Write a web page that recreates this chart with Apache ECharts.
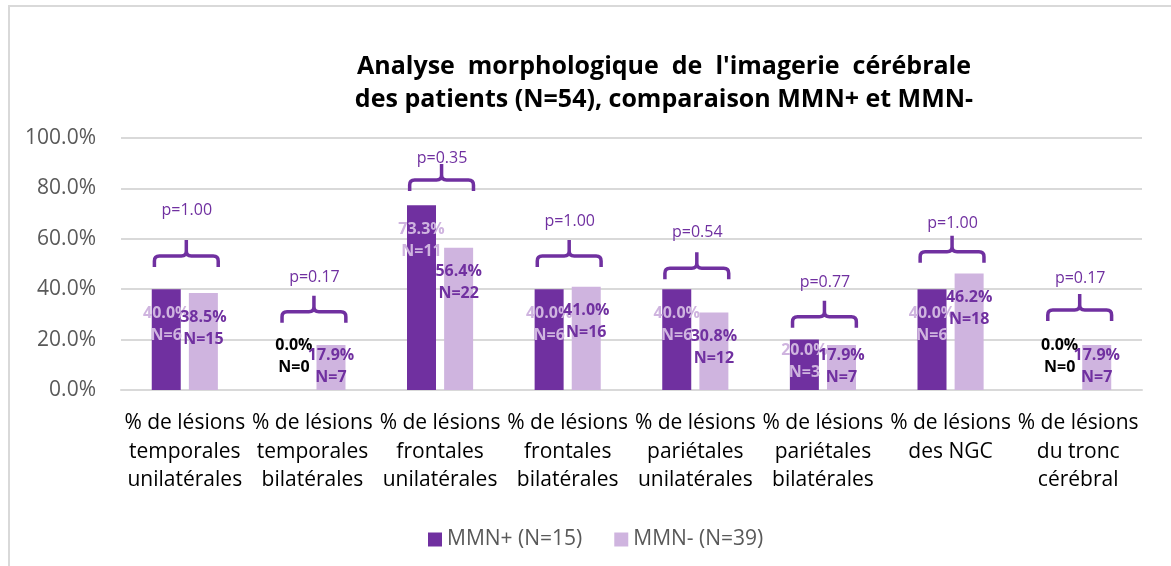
<!DOCTYPE html>
<html>
<head>
<meta charset="utf-8">
<script src="https://cdn.jsdelivr.net/npm/echarts@6/dist/echarts.min.js"></script>
<style>
  html, body { margin: 0; padding: 0; background: #fff; }
  #frame { position: absolute; left: 8px; top: 5px; width: 1163px; height: 561px; border-top: 2px solid #D9D9D9; border-left: 2px solid #D9D9D9; box-sizing: border-box; }
  #chart { position: absolute; left: 0; top: 0; width: 1171px; height: 566px; }
</style>
</head>
<body>
<div id="frame"></div>
<div id="chart"></div>
<script>
const categories = [
  "% de lésions\ntemporales\nunilatérales",
  "% de lésions\ntemporales\nbilatérales",
  "% de lésions\nfrontales\nunilatérales",
  "% de lésions\nfrontales\nbilatérales",
  "% de lésions\npariétales\nunilatérales",
  "% de lésions\npariétales\nbilatérales",
  "% de lésions\ndes NGC",
  "% de lésions\ndu tronc\ncérébral"
];
const mmnPlus = [40.0, 0.0, 73.3, 40.0, 40.0, 20.0, 40.0, 0.0];
const mmnPlusN = [6, 0, 11, 6, 6, 3, 6, 0];
const mmnMinus = [38.5, 17.9, 56.4, 41.0, 30.8, 17.9, 46.2, 17.9];
const mmnMinusN = [15, 7, 22, 16, 12, 7, 18, 7];
const pValues = ["p=1.00", "p=0.17", "p=0.35", "p=1.00", "p=0.54", "p=0.77", "p=1.00", "p=0.17"];
const braceLevels = [53.2, 31.1, 83.3, 53.2, 48.3, 29.1, 54.9, 31.7];
const pLabelLevels = [71.4, 44.8, 92.0, 66.8, 62.4, 42.7, 66.1, 44.3];
const yTicks = [0, 20, 40, 60, 80, 100];
const seriesNames = ["MMN+ (N=15)", "MMN- (N=39)"];

const DARK = "#7030A0";
const LIGHT = "#CFB4DF";
const FONT = "Open Sans";

function barData(values, counts, labelColor) {
  return values.map((v, i) => {
    const txt = v.toFixed(1) + "%\nN=" + counts[i];
    let label;
    if (v === 0) {
      label = { show: true, position: "top", distance: 12, color: "#000", formatter: txt };
    } else {
      label = { show: true, position: "insideTop", distance: v < 25 ? 0 : 13, color: labelColor, formatter: txt };
    }
    return { value: v, label: label };
  });
}

const chart = echarts.init(document.getElementById("chart"), null, { renderer: "canvas" });
const option = {
  animation: false,
  backgroundColor: "transparent",
  title: {
    text: "Analyse  morphologique  de  l'imagerie  cérébrale\ndes patients (N=54), comparaison MMN+ et MMN-",
    left: 659,
    top: 45,
    textAlign: "center",
    textStyle: { fontFamily: FONT, fontWeight: "bold", fontSize: 25, color: "#000", lineHeight: 33 }
  },
  legend: {
    data: seriesNames,
    left: 423,
    top: 524,
    itemWidth: 14,
    itemHeight: 14,
    itemGap: 32,
    icon: "rect",
    textStyle: { fontFamily: FONT, fontSize: 21, color: "#595959" }
  },
  grid: { left: 121, right: 29, top: 138, bottom: 176, containLabel: false },
  xAxis: {
    type: "category",
    data: categories,
    axisLine: { show: true, lineStyle: { color: "#D9D9D9", width: 2 } },
    axisTick: { show: false },
    axisLabel: { interval: 0, margin: 19, fontFamily: FONT, fontSize: 21, color: "#000", lineHeight: 28.5 }
  },
  yAxis: {
    type: "value",
    min: 0,
    max: 100,
    interval: 20,
    axisLine: { show: false },
    axisTick: { show: false },
    splitLine: { lineStyle: { color: "#D9D9D9", width: 2 } },
    axisLabel: {
      margin: 25,
      fontFamily: FONT,
      fontSize: 21,
      color: "#595959",
      formatter: v => (yTicks.indexOf(v) >= 0 ? v.toFixed(1) + "%" : "")
    }
  },
  series: [
    {
      name: seriesNames[0],
      type: "bar",
      barWidth: 29,
      barGap: "28%",
      itemStyle: { color: DARK },
      label: { fontFamily: FONT, fontWeight: "bold", fontSize: 16, lineHeight: 22 },
      data: barData(mmnPlus, mmnPlusN, LIGHT),
      z: 2
    },
    {
      name: seriesNames[1],
      type: "bar",
      barWidth: 29,
      itemStyle: { color: LIGHT },
      label: { fontFamily: FONT, fontWeight: "bold", fontSize: 16, lineHeight: 22 },
      data: barData(mmnMinus, mmnMinusN, DARK),
      z: 2
    },
    {
      type: "custom",
      silent: true,
      z: 5,
      data: braceLevels.map((lv, i) => [i, lv, pLabelLevels[i]]),
      renderItem: function (params, api) {
        const i = api.value(0);
        const base = api.coord([i, api.value(1)]);
        const txt = api.coord([i, api.value(2)]);
        const cw = api.size([1, 0])[0];
        const half = cw * 0.25;
        const x = base[0] + 1.5, y = base[1];
        const L = x - half, R = x + half;
        const r = 5;
        const path =
          "M" + L + "," + (y + 11) +
          " L" + L + "," + (y + r) +
          " Q" + L + "," + y + " " + (L + r) + "," + y +
          " L" + (x - r) + "," + y +
          " Q" + x + "," + y + " " + x + "," + (y - r) +
          " L" + x + "," + (y - 16) +
          " M" + x + "," + (y - r) +
          " Q" + x + "," + y + " " + (x + r) + "," + y +
          " L" + (R - r) + "," + y +
          " Q" + R + "," + y + " " + R + "," + (y + r) +
          " L" + R + "," + (y + 11);
        return {
          type: "group",
          children: [
            {
              type: "path",
              shape: { pathData: path },
              style: { fill: null, stroke: DARK, lineWidth: 3.5, lineJoin: "round", lineCap: "butt" }
            },
            {
              type: "text",
              x: txt[0] + 2,
              y: txt[1],
              style: {
                text: pValues[i],
                fill: DARK,
                font: "16px '" + FONT + "'",
                align: "center",
                verticalAlign: "middle"
              }
            }
          ]
        };
      }
    }
  ]
};
chart.setOption(option);
</script>
</body>
</html>
